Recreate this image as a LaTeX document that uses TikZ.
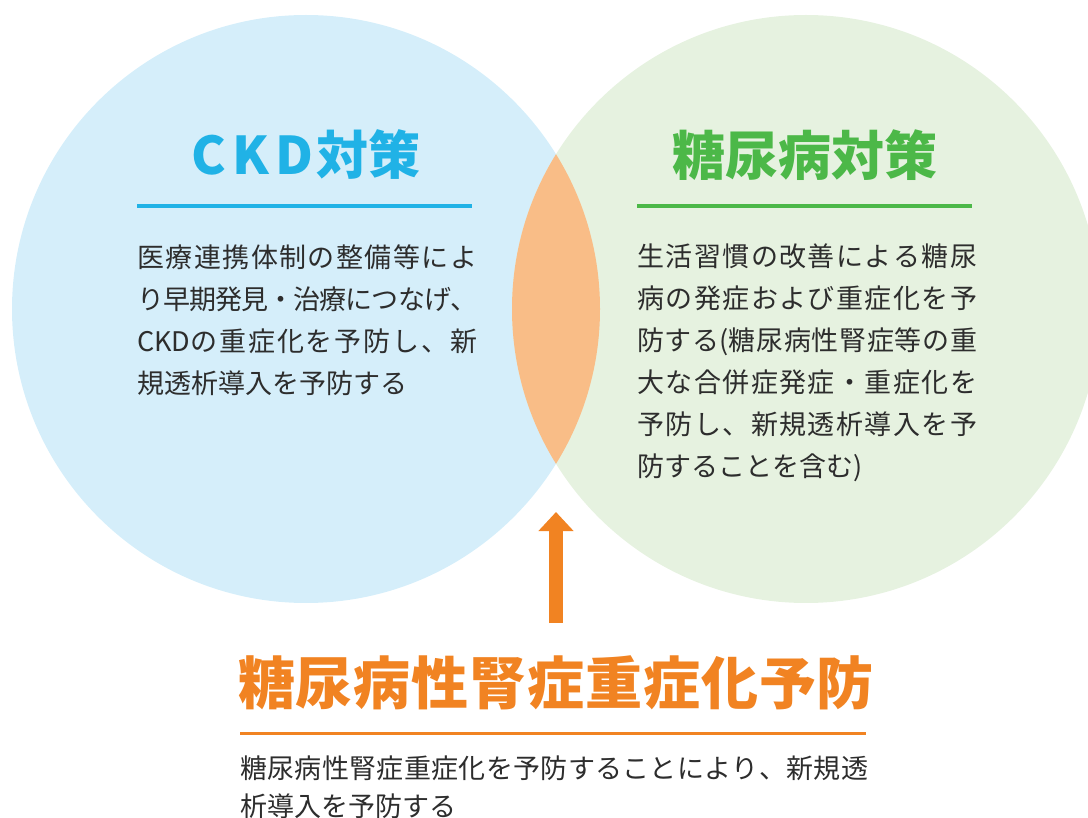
\documentclass[tikz,border=0pt]{standalone}
\usepackage{fontspec}
\newfontfamily\jpfont{Noto Sans CJK JP}
\usetikzlibrary{arrows.meta}

% glue between Japanese characters, so that lines can be justified
\newXeTeXintercharclass\jpclass
\newcount\jpc
\jpc="3000 \loop\ifnum\jpc<"3100 \XeTeXcharclass\jpc=\jpclass \advance\jpc by 1 \repeat
\jpc="4E00 \loop\ifnum\jpc<"A000 \XeTeXcharclass\jpc=\jpclass \advance\jpc by 1 \repeat
\XeTeXinterchartoks\jpclass\jpclass={\hskip 0pt plus 3pt minus 1pt\relax}
\XeTeXinterchartokenstate=1

\definecolor{ckdblue}{RGB}{32,178,230}
\definecolor{dmgreen}{RGB}{76,184,72}
\definecolor{goalorange}{RGB}{241,131,34}
\definecolor{ckdfill}{RGB}{213,238,250}
\definecolor{dmfill}{RGB}{230,242,224}
\definecolor{lensfill}{RGB}{249,189,135}
\definecolor{bodygray}{RGB}{45,45,45}

\newcommand{\jline}[2][340pt]{\makebox[#1][s]{#2}}

\begin{document}
\begin{tikzpicture}[x=1pt,y=-1pt]

	\tikzstyle title text=[font=\jpfont\bfseries\fontsize{52}{58}\selectfont, inner sep=0pt];
	\tikzstyle body text=[font=\jpfont\fontsize{27}{42}\selectfont, text=bodygray, inner sep=0pt, align=left, anchor=north west];
	\tikzstyle title rule=[line width=3.5pt];

	\useasboundingbox (0,0) rectangle (1088,818);

	\coordinate (ckd) at (306,309);
	\coordinate (dm) at (806,309);
	\fill[ckdfill] (ckd) circle[radius=294pt];
	\fill[dmfill] (dm) circle[radius=294pt];
	\begin{scope}
		\clip (ckd) circle[radius=294pt];
		\fill[lensfill] (dm) circle[radius=294pt];
	\end{scope}

	\node[title text, text=ckdblue] (ckd title) at (306,155) {C\hspace{6pt}K\hspace{6pt}D\hspace{3pt}対策};
	\node[title text, text=dmgreen, font=\jpfont\bfseries\fontsize{53}{58}\selectfont] (dm title) at (805,155) {\jline[265pt]{糖尿病対策}};
	\draw[title rule, ckdblue] (137,206) -- (472,206);
	\draw[title rule, dmgreen] (637,206) -- (972,206);

	\node[body text] (ckd text) at (137,244) {\jline{医療連携体制の整備等によ}\\
		\jline{り早期発見・治療につなげ、}\\
		\jline{CKDの重症化を予防し、新}\\
		規透析導入を予防する};

	\node[body text] (dm text) at (637,244) {\jline{生活習慣の改善による糖尿}\\
		\jline{病の発症および重症化を予}\\
		\jline{防する(糖尿病性腎症等の重}\\
		\jline{大な合併症発症・重症化を}\\
		\jline{予防し、新規透析導入を予}\\
		防することを含む)};

	% arrow up into the overlap
	\coordinate (arrow foot) at (556,623);
	\coordinate (arrow tip) at (556,512);
	\draw[line width=14pt, goalorange, -{Triangle[width=34pt,length=19pt]}] (arrow foot) -- (arrow tip);

	\node[title text, text=goalorange, font=\jpfont\bfseries\fontsize{57}{62}\selectfont] (goal title) at (556,683) {\jline[636pt]{糖尿病性腎症重症化予防}};
	\draw[title rule, goalorange, line width=3pt] (240,733) -- (866,733);
	\node[body text, font=\jpfont\fontsize{27}{38}\selectfont] (goal text) at (240,756) {\jline[628pt]{糖尿病性腎症重症化を予防することにより、新規透}\\
		析導入を予防する};

\end{tikzpicture}
\end{document}
